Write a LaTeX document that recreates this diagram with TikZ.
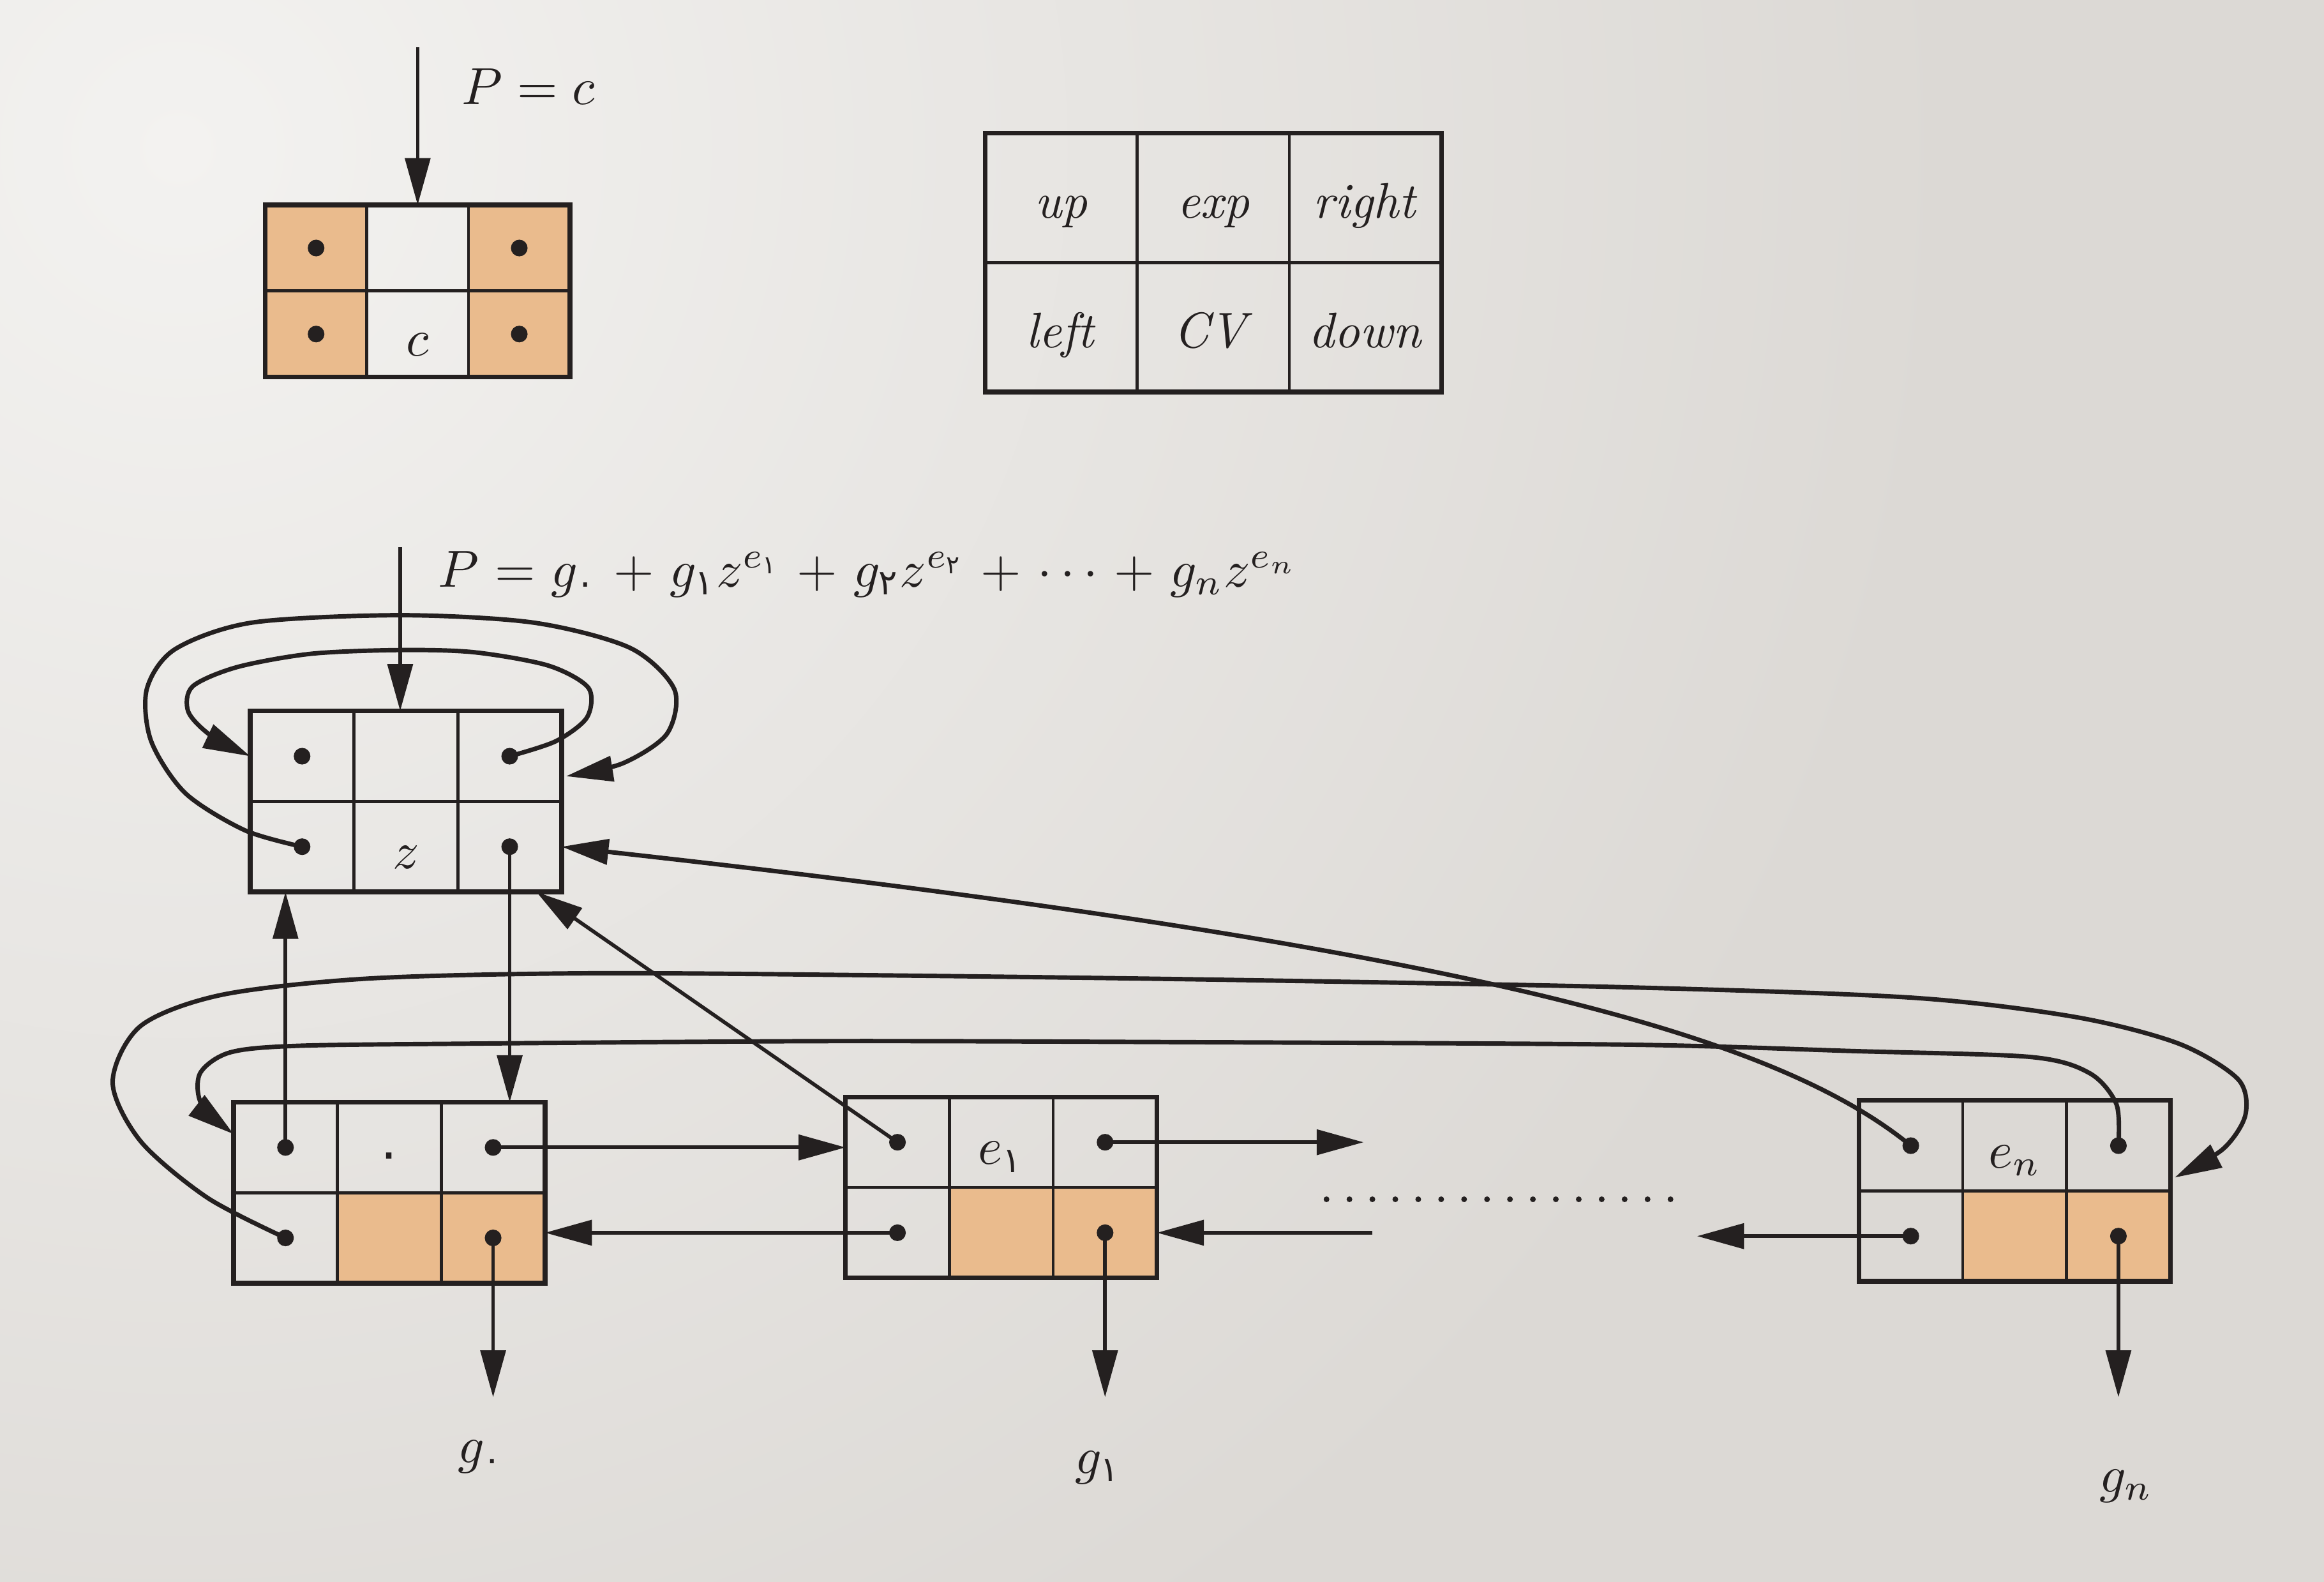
\documentclass[tikz,border=0pt]{standalone}
\usepackage{amsmath}
\usepackage{fontspec}
\newfontfamily\fa[Script=Arabic,Scale=1.0]{DejaVu Sans}
\usetikzlibrary{arrows.meta,calc}
\definecolor{ink}{RGB}{36,32,32}
\definecolor{orng}{RGB}{234,187,141}
\definecolor{paper}{RGB}{220,217,213}
\definecolor{paperlt}{RGB}{243,242,240}
\newcommand\fs{\fontsize{9.6}{11.5}\selectfont}
\begin{document}
\begin{tikzpicture}[x=0.01cm,y=-0.01cm,
  cell/.style={draw=ink, line width=0.6pt, anchor=north west, inner sep=0pt, outer sep=0pt,
               font=\fs, text=ink, text height=8.5pt, text depth=0pt},
  rcell/.style={cell, minimum width=0.70cm, minimum height=0.61cm},
  tcell/.style={cell, minimum width=0.685cm, minimum height=0.58cm},
  lcell/.style={cell, minimum width=1.026cm, minimum height=0.872cm, text height=7.7pt},
  org/.style={fill=orng},
  frame/.style={draw=ink, line width=0.9pt},
  arr/.style={draw=ink, line width=0.7pt, -{Triangle[length=9pt,width=4.8pt]}},
  curv/.style={arr, line width=0.85pt},
  lbl/.style={font=\fs, text=ink, inner sep=0pt, anchor=base},
  dotline/.style={draw=ink, line width=1.1pt, line cap=round, dash pattern=on 0pt off 4.4pt}]
\useasboundingbox (0,0) rectangle (1568,1067);
% paper
\fill[paper] (0,0) rectangle (1568,1067);
\begin{scope}
  \clip (0,0) rectangle (1568,1067);
  \shade[inner color=paperlt, outer color=paper] (120,100) circle (1200);
\end{scope}

% ---------- top record P = c ----------
\node[tcell,org] (t-ul) at (179,138.3) {};
\node[tcell]     (t-um) at (t-ul.north east) {};
\node[tcell,org] (t-ur) at (t-um.north east) {};
\node[tcell,org] (t-ll) at (t-ul.south west) {};
\node[tcell]     (t-lm) at (t-ll.north east) {$c$};
\node[tcell,org] (t-lr) at (t-lm.north east) {};
\draw[frame] (t-ul.north west) rectangle (t-lr.south east);
\coordinate (tP) at (t-um.north |- 0,32);
\draw[arr] (tP) -- (t-um.north);
\node[lbl, anchor=base west] (tlab) at (311,70.5) {$P = c$};

% ---------- legend ----------
\node[lcell] (l-ul) at (664.6,89.9) {\textit{up}};
\node[lcell] (l-um) at (l-ul.north east) {\textit{exp}};
\node[lcell] (l-ur) at (l-um.north east) {\textit{right}};
\node[lcell] (l-ll) at (l-ul.south west) {\textit{left}};
\node[lcell] (l-lm) at (l-ll.north east) {\textit{CV}};
\node[lcell] (l-lr) at (l-lm.north east) {\textit{down}};
\draw[frame] (l-ul.north west) rectangle (l-lr.south east);

% ---------- head record ----------
\node[rcell] (h-ul) at (168.8,479.6) {};
\node[rcell] (h-um) at (h-ul.north east) {};
\node[rcell] (h-ur) at (h-um.north east) {};
\node[rcell] (h-ll) at (h-ul.south west) {};
\node[rcell] (h-lm) at (h-ll.north east) {$z$};
\node[rcell] (h-lr) at (h-lm.north east) {};
\draw[frame] (h-ul.north west) rectangle (h-lr.south east);
\coordinate (hP) at (270,369);
\draw[arr] (hP) -- (hP |- h-um.north);
\node[lbl, anchor=base west] (hlab) at (295,396)
  {\medmuskip=5.5mu \thickmuskip=5.5mu
   $P = g_{\text{\fa ۰}} + g_{\text{\fa ۱}} z^{e_{\text{\fa ۱}}} + g_{\text{\fa ۲}} z^{e_{\text{\fa ۲}}} + \cdots + g_n z^{e_n}$};

% ---------- term records ----------
\node[rcell]     (n0-ul) at (157.6,743.5) {};
\node[rcell]     (n0-um) at (n0-ul.north east) {\fa ۰};
\node[rcell]     (n0-ur) at (n0-um.north east) {};
\node[rcell]     (n0-ll) at (n0-ul.south west) {};
\node[rcell,org] (n0-lm) at (n0-ll.north east) {};
\node[rcell,org] (n0-lr) at (n0-lm.north east) {};
\draw[frame] (n0-ul.north west) rectangle (n0-lr.south east);

\node[rcell]     (n1-ul) at (570.5,740) {};
\node[rcell]     (n1-um) at (n1-ul.north east) {$e_{\text{\fa ۱}}$};
\node[rcell]     (n1-ur) at (n1-um.north east) {};
\node[rcell]     (n1-ll) at (n1-ul.south west) {};
\node[rcell,org] (n1-lm) at (n1-ll.north east) {};
\node[rcell,org] (n1-lr) at (n1-lm.north east) {};
\draw[frame] (n1-ul.north west) rectangle (n1-lr.south east);

\node[rcell]     (nn-ul) at (1254.2,742.3) {};
\node[rcell]     (nn-um) at (nn-ul.north east) {$e_n$};
\node[rcell]     (nn-ur) at (nn-um.north east) {};
\node[rcell]     (nn-ll) at (nn-ul.south west) {};
\node[rcell,org] (nn-lm) at (nn-ll.north east) {};
\node[rcell,org] (nn-lr) at (nn-lm.north east) {};
\draw[frame] (nn-ul.north west) rectangle (nn-lr.south east);

% labels below
\node[lbl] (g0) at (324.5,987) {$g_{\text{\fa ۰}}$};
\node[lbl] (g1) at (741,994) {$g_{\text{\fa ۱}}$};
\node[lbl] (gn) at (1434.6,1006.5) {$g_n$};

% ---------- helper coordinates ----------
\coordinate (hInEnd)  at (h-ul.west);
\coordinate (hOutEnd) at ($(h-ur.east)+(3,13.5)$);
\coordinate (hBot)    at ($(h-lr.south)+(18,0)$);
\coordinate (n0OutEnd) at ($(nn-ur.south east)+(3,-9)$);
\coordinate (n0InEnd)  at ($(n0-ul.west)+(0,-9)$);
\coordinate (r1) at (920,770);
\coordinate (l1) at (926,836);
\coordinate (ln) at (1145,836);
\coordinate (d1) at (895,809);
\coordinate (d2) at (1142,809);
\coordinate (e0) at (n0-lr.center |- 0,942.5);
\coordinate (e1) at (n1-lr.center |- 0,942.5);
\coordinate (en) at (nn-lr.center |- 0,942.5);

% ---------- head loops ----------
\draw[curv] plot[smooth] coordinates {(h-ur.center) (375,500) (396,484) (397,464) (370,449)
  (320,440) (270,438.5) (210,441) (160,450) (130,463) (127,480) (142,496) (hInEnd)};
\draw[curv] plot[smooth] coordinates {(h-ll.center) (165,560) (125,535) (102,500) (99,465)
  (118,438) (170,420) (270,415) (360,420) (425,437) (455,465) (450,495) (420,515) (hOutEnd)};

% ---------- vertical links ----------
\draw[arr] (n0-ul.center) -- (n0-ul.center |- h-ll.south);
\draw[arr] (h-lr.center) -- (h-lr.center |- n0-ur.north);
\draw[arr] (n1-ul.center) -- (hBot);
\draw[curv] (nn-ul.center) .. controls (1200,700) and (1000,640) .. (h-lr.east);

% ---------- horizontal links ----------
\draw[arr] (n0-ur.center) -- (n0-ur.center -| n1-ul.west);
\draw[arr] (n1-ll.center) -- (n1-ll.center -| n0-lr.east);
\draw[arr] (n1-ur.center) -- (n1-ur.center -| r1);
\draw[arr] (l1 |- n1-lr.center) -- (n1-lr.east);
\draw[arr] (nn-ll.center) -- (nn-ll.center -| ln);
\draw[dotline] (d1) -- (d2);

% ---------- wrap-around loops ----------
\draw[curv] plot[smooth] coordinates {(n0-ll.center) (140,808) (95,770) (76,730) (95,692)
  (150,671) (250,660) (400,656.5) (600,658) (830,661) (1098,666) (1290,673) (1400,686)
  (1470,704) (1510,728) (1515,752) (1500,775) (n0OutEnd)};
\draw[curv] plot[smooth] coordinates {(nn-ur.center) (1428,745) (1410,724) (1370,713)
  (1250,709) (1098,704.7) (800,703) (560,702.3) (317,704) (200,705.5) (155,710) (135,724)
  (136,745) (n0InEnd)};

% ---------- down links ----------
\draw[arr] (n0-lr.center) -- (e0);
\draw[arr] (n1-lr.center) -- (e1);
\draw[arr] (nn-lr.center) -- (en);

% ---------- pointer dots ----------
\foreach \c in {t-ul,t-ur,t-ll,t-lr,h-ul,h-ur,h-ll,h-lr,n0-ul,n0-ur,n0-ll,n0-lr,
                n1-ul,n1-ur,n1-ll,n1-lr,nn-ul,nn-ur,nn-ll,nn-lr}
  \fill[ink] (\c.center) circle (1.6pt);
\end{tikzpicture}
\end{document}
